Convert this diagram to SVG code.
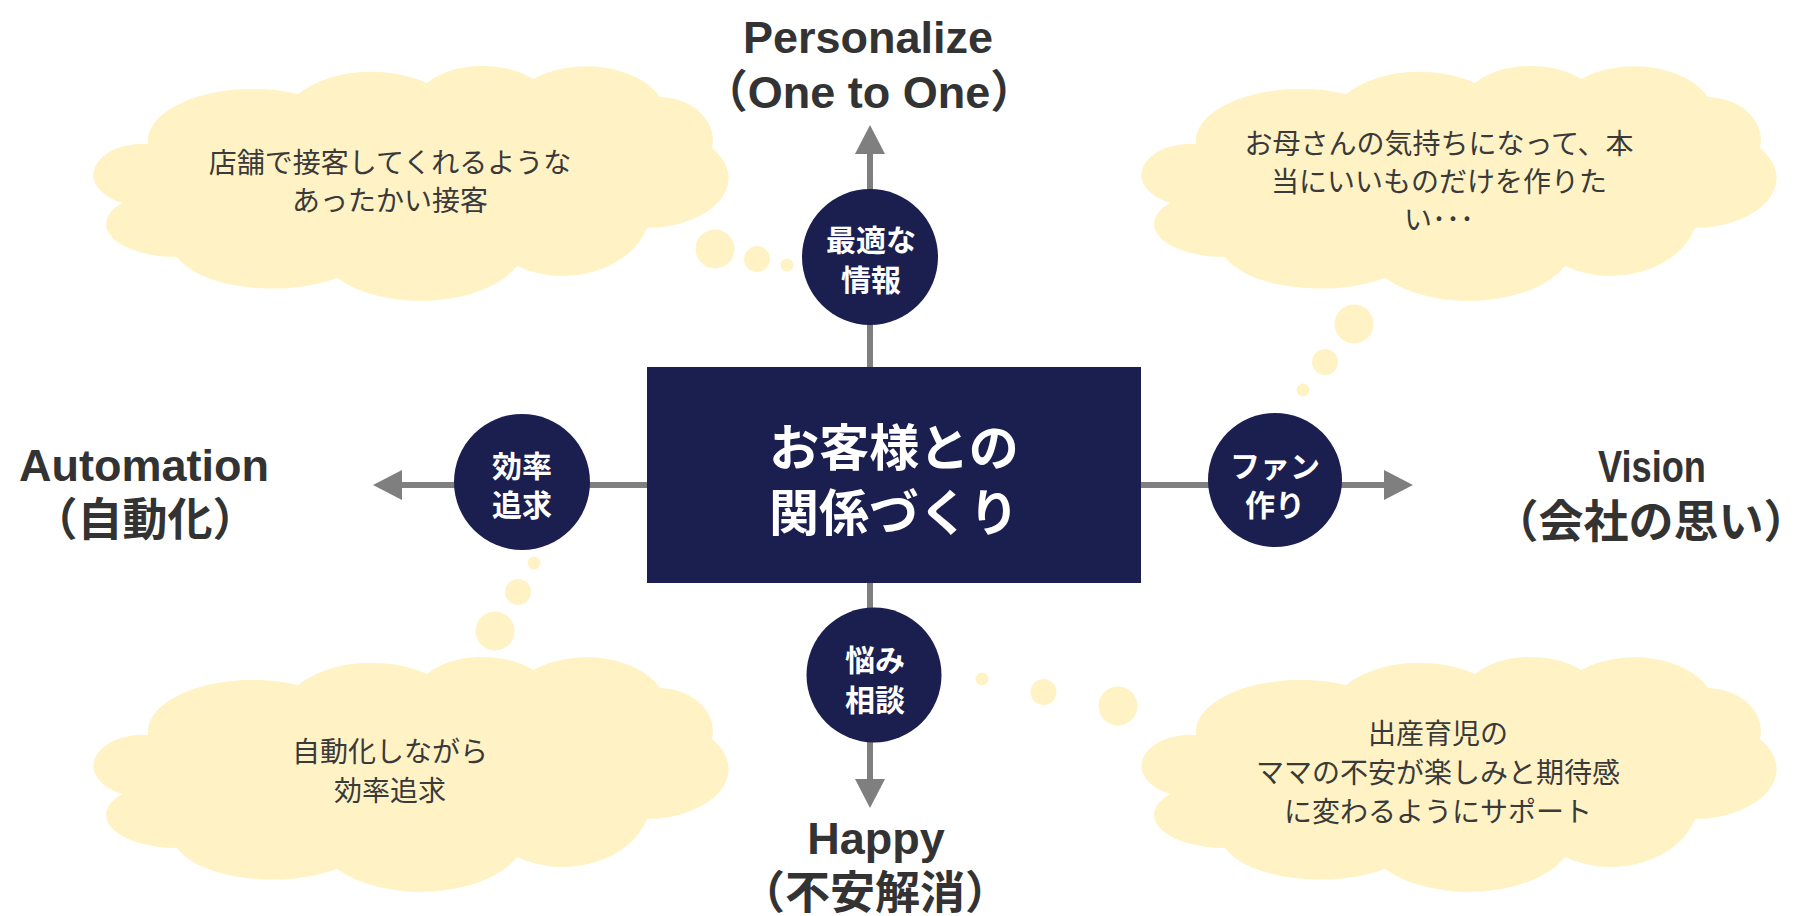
<svg xmlns="http://www.w3.org/2000/svg" xmlns:xlink="http://www.w3.org/1999/xlink" width="1809" height="916" viewBox="0 0 1809 916">
<style>
.lbl{font-family:"Liberation Sans","Noto Sans CJK JP",sans-serif;font-weight:bold;font-size:45px;fill:#333333;text-anchor:middle}
.ctxt{font-family:"Noto Sans CJK JP",sans-serif;font-size:28px;fill:#3a3a3a;text-anchor:middle}
.btxt{font-family:"Noto Sans CJK JP",sans-serif;font-weight:bold;font-size:30px;fill:#ffffff;text-anchor:middle}
.mtxt{font-family:"Noto Sans CJK JP",sans-serif;font-weight:bold;font-size:50px;fill:#ffffff;text-anchor:middle}
.navy{fill:#1b1f50}
.cloud{fill:#fff3c6}
.axis{stroke:#7f7f7f;stroke-width:6;fill:none;marker-end:url(#arr)}
</style>
<defs>
<marker id="arr" markerUnits="userSpaceOnUse" markerWidth="29" markerHeight="30" refX="0" refY="15" orient="auto" viewBox="0 0 29 30">
<path d="M0,0 L29,15 L0,30 Z" fill="#7f7f7f"/>
</marker>
<path id="cloudShape" d="M122,203 A49,31 0 0 1 148,144 A105,52 0 0 1 298,94 A92,56 0 0 1 427,83 A68,40 0 0 1 533,79 A80,50 0 0 1 660,97 A55,43 0 0 1 712,148 A83,50 0 0 1 647,228 A88,68 0 0 1 517,266 A105,58 0 0 1 337,278 A100,45 0 0 1 177,257 A70,33 0 0 1 122,203 Z"/>
</defs>

<g id="connectors">
<line class="axis" x1="870" y1="367" x2="870" y2="154"/>
<line class="axis" x1="647" y1="485" x2="402" y2="485"/>
<line class="axis" x1="1141" y1="485" x2="1384" y2="485"/>
<line class="axis" x1="870" y1="583" x2="870" y2="779"/>
</g>

<g id="cloud-top-left">
<use xlink:href="#cloudShape" href="#cloudShape" class="cloud"/>
<circle class="cloud" cx="715" cy="249" r="19.5"/>
<circle class="cloud" cx="757" cy="259" r="13"/>
<circle class="cloud" cx="787" cy="265" r="6.5"/>
<text class="ctxt" x="390" y="173">店舗で接客してくれるような</text>
<text class="ctxt" x="390" y="211">あったかい接客</text>
</g>

<g id="cloud-top-right">
<use xlink:href="#cloudShape" href="#cloudShape" class="cloud" transform="translate(1048,0)"/>
<circle class="cloud" cx="1354" cy="324" r="19.5"/>
<circle class="cloud" cx="1325" cy="362" r="13"/>
<circle class="cloud" cx="1303" cy="390" r="6.5"/>
<text class="ctxt" x="1439" y="154">お母さんの気持ちになって、本</text>
<text class="ctxt" x="1439" y="192">当にいいものだけを作りた</text>
<text class="ctxt" x="1439" y="230">い･･･</text>
</g>

<g id="cloud-bottom-left">
<use xlink:href="#cloudShape" href="#cloudShape" class="cloud" transform="translate(0,591)"/>
<circle class="cloud" cx="534" cy="563" r="6.5"/>
<circle class="cloud" cx="518" cy="592" r="13"/>
<circle class="cloud" cx="495" cy="631" r="19.5"/>
<text class="ctxt" x="390" y="762">自動化しながら</text>
<text class="ctxt" x="390" y="801">効率追求</text>
</g>

<g id="cloud-bottom-right">
<use xlink:href="#cloudShape" href="#cloudShape" class="cloud" transform="translate(1048,591)"/>
<circle class="cloud" cx="982" cy="679" r="6.5"/>
<circle class="cloud" cx="1043.5" cy="692" r="13"/>
<circle class="cloud" cx="1118" cy="706" r="19.5"/>
<text class="ctxt" x="1438" y="744">出産育児の</text>
<text class="ctxt" x="1438" y="783">ママの不安が楽しみと期待感</text>
<text class="ctxt" x="1438" y="822">に変わるようにサポート</text>
</g>

<g id="center">
<rect class="navy" x="647" y="367" width="494" height="216"/>
<text class="mtxt" x="894" y="466">お客様との</text>
<text class="mtxt" x="894" y="531">関係づくり</text>
</g>

<g id="node-top">
<circle class="navy" cx="870" cy="257" r="68"/>
<text class="btxt" x="871" y="251">最適な</text>
<text class="btxt" x="871" y="291">情報</text>
</g>

<g id="node-left">
<circle class="navy" cx="522" cy="482" r="68"/>
<text class="btxt" x="522" y="477">効率</text>
<text class="btxt" x="522" y="516">追求</text>
</g>

<g id="node-right">
<circle class="navy" cx="1275" cy="480" r="67"/>
<text class="btxt" x="1275" y="477">ファン</text>
<text class="btxt" x="1275" y="516">作り</text>
</g>

<g id="node-bottom">
<circle class="navy" cx="874" cy="675" r="67.5"/>
<text class="btxt" x="875" y="671">悩み</text>
<text class="btxt" x="875" y="711">相談</text>
</g>

<g id="label-top">
<text class="lbl" x="868" y="53">Personalize</text>
<text class="lbl" x="869" y="108">（One to One）</text>
</g>

<g id="label-left">
<text class="lbl" x="144" y="481">Automation</text>
<text class="lbl" x="145" y="536">（自動化）</text>
</g>

<g id="label-right">
<text class="lbl" x="1652" y="482" textLength="108" lengthAdjust="spacingAndGlyphs">Vision</text>
<text class="lbl" x="1651" y="538">（会社の思い）</text>
</g>

<g id="label-bottom">
<text class="lbl" x="876" y="854">Happy</text>
<text class="lbl" x="875" y="909">（不安解消）</text>
</g>
</svg>
